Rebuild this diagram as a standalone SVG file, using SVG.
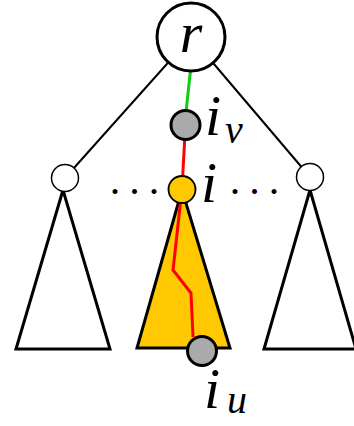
<svg xmlns="http://www.w3.org/2000/svg" width="354" height="426" viewBox="0 0 354 426">
<style>
.tri{fill:#fff;stroke:#000;stroke-width:3;stroke-linejoin:miter}
.edge{stroke:#000;stroke-width:2;fill:none}
.math{font-family:"Liberation Serif","Times New Roman",serif;font-style:italic;fill:#000}
.dots{font-family:"Liberation Serif","Times New Roman",serif;fill:#000;letter-spacing:5.5px}
</style>
<rect width="354" height="426" fill="#fff"/>
<g id="subtree-left"><polygon class="tri" points="63,190 16,349 110,349"/></g>
<g id="subtree-mid"><polygon class="tri" points="182,190 137,348 230,348" style="fill:#ffc800"/></g>
<g id="subtree-right"><polygon class="tri" points="310,190 264,349 356,349"/></g>
<g id="connectors">
<line class="edge" x1="191" y1="37" x2="65" y2="178"/>
<line class="edge" x1="191" y1="37" x2="310" y2="177"/>
<line x1="190.5" y1="70" x2="186" y2="112" stroke="#11cc11" stroke-width="3"/>
<path d="M185.5,125 L182,189 L173,270 L191,293 L193,337" stroke="#ff0000" stroke-width="3" fill="none" stroke-linejoin="miter"/>
</g>
<g id="node-r"><circle cx="191" cy="37" r="34" fill="#fff" stroke="#000" stroke-width="3"/><text class="math" x="191" y="52" font-size="58" text-anchor="middle">r</text></g>
<g id="node-left"><circle cx="65" cy="178" r="13.5" fill="#fff" stroke="#000" stroke-width="1.5"/></g>
<g id="node-right"><circle cx="310" cy="177" r="13.5" fill="#fff" stroke="#000" stroke-width="1.5"/></g>
<g id="node-iv"><circle cx="185.5" cy="125" r="14.5" fill="#aaa" stroke="#000" stroke-width="3"/><text class="math" x="205" y="135" font-size="58">i</text><text class="math" x="225" y="143" font-size="40">v</text></g>
<g id="node-i"><circle cx="182" cy="189.5" r="13.5" fill="#ffc800" stroke="#000" stroke-width="1.8"/><text class="math" x="201" y="202" font-size="58">i</text></g>
<g id="node-iu"><circle cx="202" cy="351" r="14.5" fill="#aaa" stroke="#000" stroke-width="3"/><text class="math" x="204" y="408" font-size="58">i</text><text class="math" x="227" y="413" font-size="40">u</text></g>
<text class="dots" x="108" y="206" font-size="42">···</text>
<text class="dots" x="228" y="206" font-size="42">···</text>
</svg>
